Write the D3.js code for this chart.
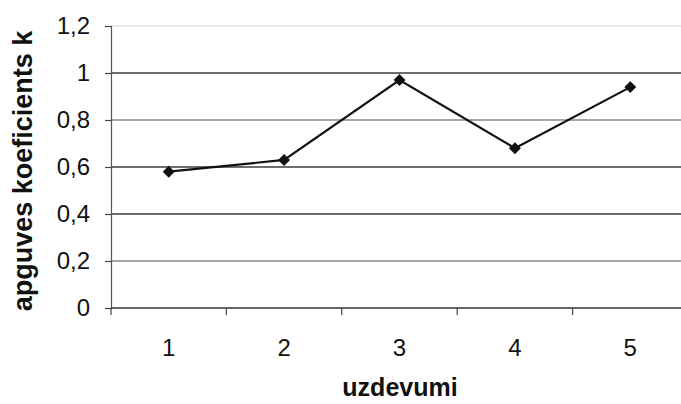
<!DOCTYPE html>
<html>
<head>
<meta charset="utf-8">
<script src="https://cdn.jsdelivr.net/npm/d3@7"></script>
<style>
  body { margin: 0; background: #fff; }
  svg { display: block; font-family: Arial, "Liberation Sans", sans-serif; }
</style>
</head>
<body>
<div id="chart"></div>
<script>
// Data.
const tasks = ["1", "2", "3", "4", "5"];
const coefficients = [0.58, 0.63, 0.97, 0.68, 0.94];
const yTicks = [0, 0.2, 0.4, 0.6, 0.8, 1, 1.2];

const width = 681;
const height = 404;
const margin = {top: 26, right: -7, bottom: 96, left: 111};

const svg = d3.select("#chart")
  .append("svg")
    .attr("width", width)
    .attr("height", height);

// Band scale for the categories, linear for the coefficient.
const x = d3.scaleBand()
    .domain(tasks)
    .range([margin.left, width - margin.right]);

const y = d3.scaleLinear()
    .domain([0, 1.2])
    .range([height - margin.bottom, margin.top]);

// Horizontal gridlines (the scan shows some darker than others).
const gridColor = d => d === 1.2 ? "#e2e2e2" : (d === 0.8 || d === 0.2) ? "#8a8a8a" : "#3c3c3c";
svg.append("g")
  .selectAll("line")
  .data(yTicks.filter(d => d > 0))
  .join("line")
    .attr("x1", margin.left)
    .attr("x2", width)
    .attr("y1", d => y(d))
    .attr("y2", d => y(d))
    .attr("stroke", gridColor)
    .attr("stroke-width", 1.3);

// Y axis
const yAxis = svg.append("g")
    .attr("transform", `translate(${margin.left},0)`)
    .call(d3.axisLeft(y)
      .tickValues(yTicks)
      .tickSize(6)
      .tickPadding(15)
      .tickFormat(d => d3.format("~g")(d).replace(".", ",")));
yAxis.select(".domain").attr("stroke", "#555").attr("stroke-width", 1.2);
yAxis.selectAll(".tick line").attr("stroke", "#444").attr("stroke-width", 1.2);
yAxis.selectAll(".tick text")
    .attr("font-size", 24)
    .attr("fill", "#111")
    .attr("font-family", "Arial, 'Liberation Sans', sans-serif");

// X axis: ticks sit on the band boundaries, labels at band centres.
const xAxisG = svg.append("g")
    .attr("transform", `translate(0,${y(0)})`);
xAxisG.append("line")
    .attr("x1", margin.left)
    .attr("x2", width)
    .attr("stroke", "#333")
    .attr("stroke-width", 1.4);
xAxisG.selectAll(".xtick")
  .data(tasks)
  .join("line")
    .attr("class", "xtick")
    .attr("x1", d => x(d))
    .attr("x2", d => x(d))
    .attr("y1", 0)
    .attr("y2", 7)
    .attr("stroke", "#444")
    .attr("stroke-width", 1.2);
xAxisG.selectAll(".xlabel")
  .data(tasks)
  .join("text")
    .attr("class", "xlabel")
    .attr("x", d => x(d) + x.bandwidth() / 2)
    .attr("y", 48)
    .attr("text-anchor", "middle")
    .attr("font-size", 24)
    .attr("fill", "#111")
    .text(d => d);

// Line and diamond markers
const line = d3.line()
    .x((d, i) => x(tasks[i]) + x.bandwidth() / 2)
    .y(d => y(d));

svg.append("path")
    .datum(coefficients)
    .attr("fill", "none")
    .attr("stroke", "#111")
    .attr("stroke-width", 2.2)
    .attr("d", line);

svg.append("g")
  .selectAll("path")
  .data(coefficients)
  .join("path")
    .attr("transform", (d, i) => `translate(${x(tasks[i]) + x.bandwidth() / 2},${y(d)})`)
    .attr("d", d3.symbol(d3.symbolDiamond2, 90))
    .attr("fill", "#111");

// Axis titles
svg.append("text")
    .attr("x", 400)
    .attr("y", 396)
    .attr("text-anchor", "middle")
    .attr("font-size", 25)
    .attr("font-weight", "bold")
    .attr("fill", "#111")
    .text("uzdevumi");

svg.append("text")
    .attr("transform", "translate(32,171) rotate(-90)")
    .attr("text-anchor", "middle")
    .attr("font-size", 27)
    .attr("font-weight", "bold")
    .attr("fill", "#111")
    .text("apguves koeficients k");
</script>
</body>
</html>
